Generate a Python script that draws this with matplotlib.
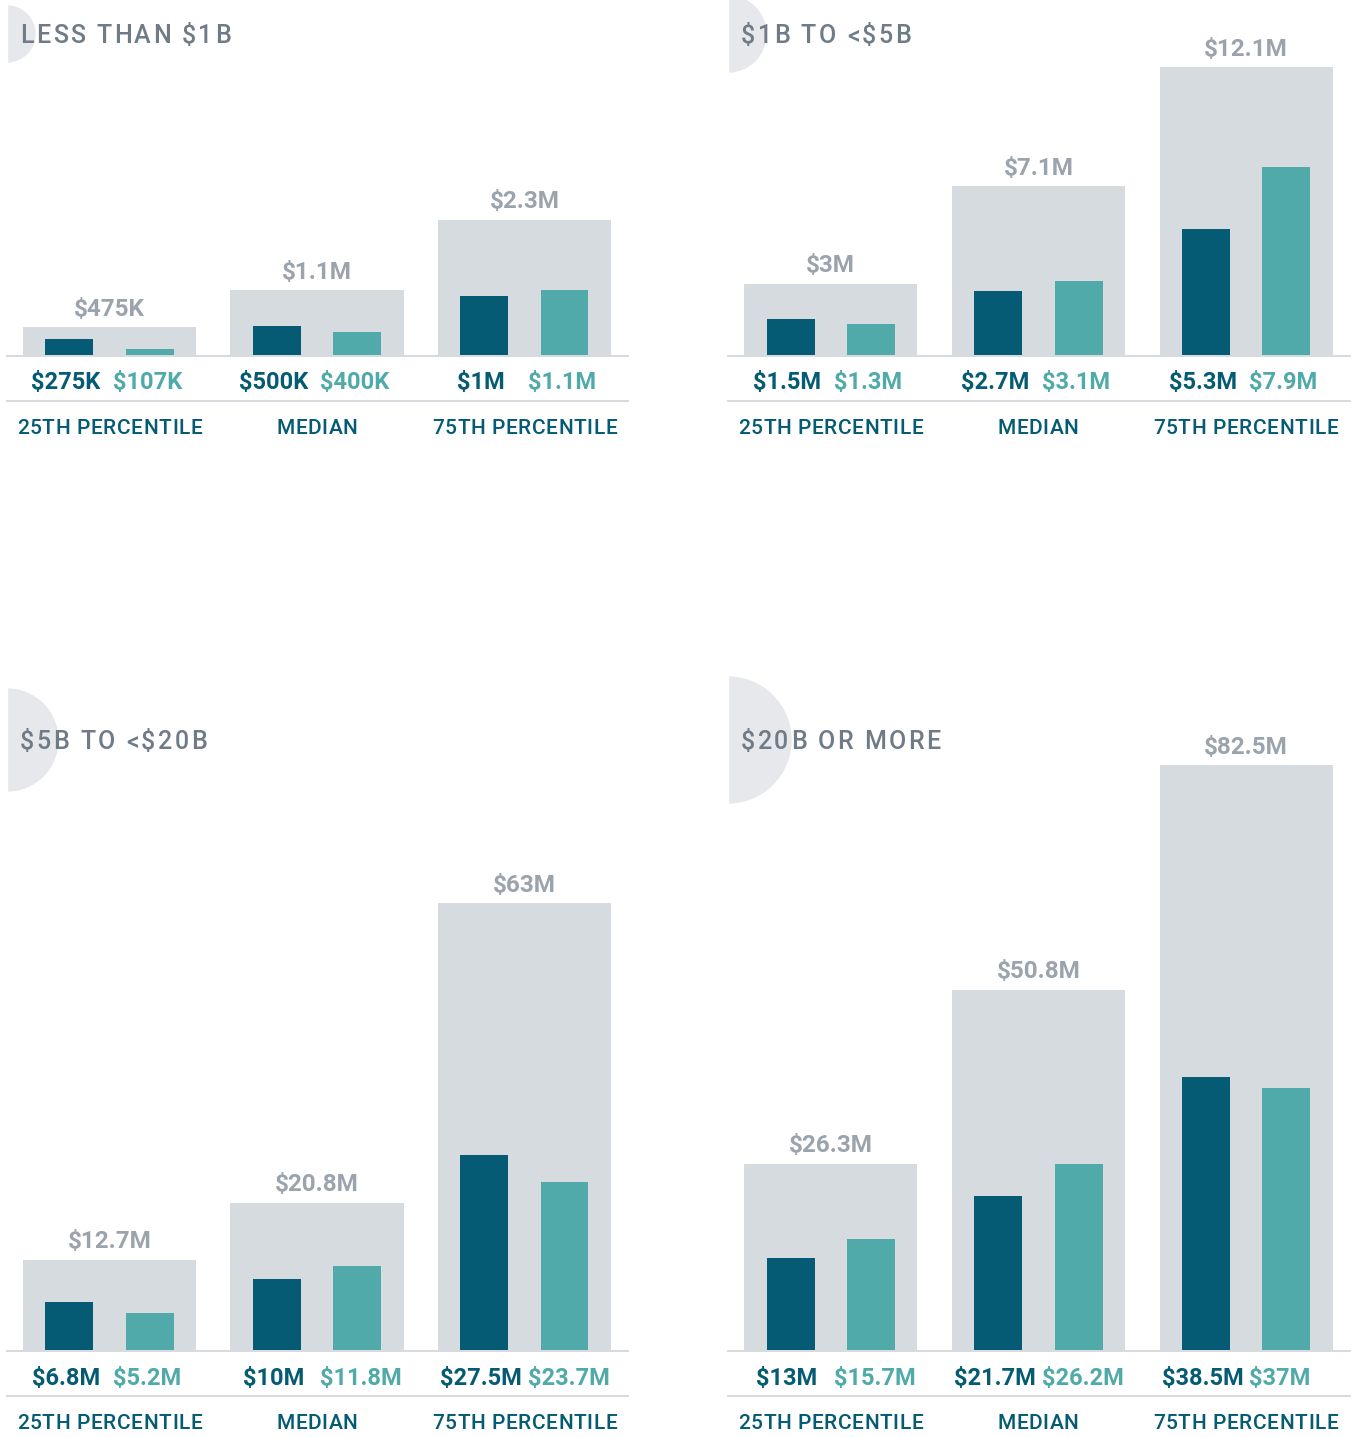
import matplotlib
matplotlib.use("Agg")
import matplotlib.pyplot as plt
from matplotlib.patches import Circle

plt.rcParams['font.family'] = ['Roboto', 'DejaVu Sans']
plt.rcParams['text.parse_math'] = False

# data (millions of dollars)
groups = ["25TH PERCENTILE", "MEDIAN", "75TH PERCENTILE"]
titles = ["LESS THAN $1B", "$1B TO <$5B", "$5B TO <$20B", "$20B OR MORE"]

total_1 = [0.475, 1.1, 2.3]
dark_1 = [0.275, 0.5, 1.0]
light_1 = [0.107, 0.4, 1.1]
total_lbl_1 = ["$475K", "$1.1M", "$2.3M"]
dark_lbl_1 = ["$275K", "$500K", "$1M"]
light_lbl_1 = ["$107K", "$400K", "$1.1M"]

total_2 = [3.0, 7.1, 12.1]
dark_2 = [1.5, 2.7, 5.3]
light_2 = [1.3, 3.1, 7.9]
total_lbl_2 = ["$3M", "$7.1M", "$12.1M"]
dark_lbl_2 = ["$1.5M", "$2.7M", "$5.3M"]
light_lbl_2 = ["$1.3M", "$3.1M", "$7.9M"]

total_3 = [12.7, 20.8, 63.0]
dark_3 = [6.8, 10.0, 27.5]
light_3 = [5.2, 11.8, 23.7]
total_lbl_3 = ["$12.7M", "$20.8M", "$63M"]
dark_lbl_3 = ["$6.8M", "$10M", "$27.5M"]
light_lbl_3 = ["$5.2M", "$11.8M", "$23.7M"]

total_4 = [26.3, 50.8, 82.5]
dark_4 = [13.0, 21.7, 38.5]
light_4 = [15.7, 26.2, 37.0]
total_lbl_4 = ["$26.3M", "$50.8M", "$82.5M"]
dark_lbl_4 = ["$13M", "$21.7M", "$38.5M"]
light_lbl_4 = ["$15.7M", "$26.2M", "$37M"]

DARK = "#045b73"
LIGHT = "#4faaa9"
GRAYBAR = "#d6dbdf"
GRAYTXT = "#9ba4ad"
TITLE = "#6f7c88"
CIRC = "#e6e8eb"
RULE = "#d3d7db"

W, H = 1355, 1437
fig = plt.figure(figsize=(W / 100, H / 100), dpi=100)
renderer = fig.canvas.get_renderer()

# overlay in pixel coords for titles, circles, rules
bg = fig.add_axes([0, 0, 1, 1], zorder=0)
bg.set_xlim(0, W)
bg.set_ylim(H, 0)
bg.axis("off")

PT = 72 / 100  # px -> points


def text_w(s, **kw):
    t = fig.text(0, 0, s + "|", **kw)
    w1 = t.get_window_extent(renderer).width
    t.set_text("|")
    w2 = t.get_window_extent(renderer).width
    t.remove()
    return w1 - w2


def spaced(x, y, s, gap, align="left", **kw):
    # letter-spaced text in bg pixel coords
    total = text_w(s, **kw) + gap * (len(s) - 1)
    x0 = x if align == "left" else x - total / 2
    for k, ch in enumerate(s):
        if ch == " ":
            continue
        xk = x0 + text_w(s[:k], **kw) + gap * k
        bg.text(xk, y, ch, ha="left", va="center", zorder=3, **kw)


# panel layout: left, right, baseline, top of axes (px), px per unit, title y, circle
panels = [
    (7, 628, 355, 60, 58.7, 36, (7, 34, 28)),
    (728, 1350, 355, 60, 23.8, 36, (728, 34, 38)),
    (7, 628, 1350, 760, 7.09, 742, (7, 740, 51)),
    (728, 1350, 1350, 700, 7.09, 742, (728, 740, 63)),
]
data = [
    (total_1, dark_1, light_1, total_lbl_1, dark_lbl_1, light_lbl_1),
    (total_2, dark_2, light_2, total_lbl_2, dark_lbl_2, light_lbl_2),
    (total_3, dark_3, light_3, total_lbl_3, dark_lbl_3, light_lbl_3),
    (total_4, dark_4, light_4, total_lbl_4, dark_lbl_4, light_lbl_4),
]

x = [0, 1, 2]
for i, (l, r, base, top, ppu, ty, (cx, cy, cr)) in enumerate(panels):
    tot, dk, lt, tl, dl, ll = data[i]

    bg.add_patch(Circle((cx, cy), cr, color=CIRC, zorder=1))
    bg.add_patch(plt.Rectangle((cx - cr - 2, cy - cr - 2), cr + 2, 2 * cr + 4, color="white", zorder=2))
    spaced(l + 13, ty, titles[i], 2.4, fontsize=18, fontweight="medium", color=TITLE)
    bg.plot([l, r], [base + 0.5, base + 0.5], color=RULE, lw=1.3, zorder=3)
    bg.plot([l, r], [base + 46, base + 46], color=RULE, lw=1.3, zorder=3)

    ax = fig.add_axes([l / W, (H - base) / H, (r - l) / W, (base - top) / H], zorder=2)
    ax.patch.set_alpha(0)
    ax.axis("off")
    ax.set_xlim(-0.494, 2.499)
    ax.set_ylim(0, (base - top) / ppu)

    ax.bar(x, tot, width=0.834, color=GRAYBAR, zorder=1)
    ax.bar([v - 0.193 for v in x], dk, width=0.231, color=DARK, zorder=2)
    ax.bar([v + 0.193 for v in x], lt, width=0.231, color=LIGHT, zorder=2)

    centers = [l + 102.5 + 207.5 * j for j in x]
    for j in x:
        ax.annotate(tl[j], (j, tot[j]), xytext=(0, 18 * PT), textcoords="offset points",
                    ha="center", va="center", fontsize=17.5, fontweight="bold", color=GRAYTXT)
        ax.annotate(dl[j], (j - 0.21, 0), xytext=(0, -28 * PT), textcoords="offset points",
                    ha="center", va="center", fontsize=17, fontweight="bold", color=DARK,
                    annotation_clip=False)
        ax.annotate(ll[j], (j + 0.015, 0), xytext=(0, -28 * PT), textcoords="offset points",
                    ha="left", va="center", fontsize=17, fontweight="bold", color=LIGHT,
                    annotation_clip=False)
        spaced(centers[j], base + 73.5, groups[j], 0.6, align="center",
               fontsize=15, fontweight="medium", color=DARK)

fig.savefig("out.png", dpi=100)
